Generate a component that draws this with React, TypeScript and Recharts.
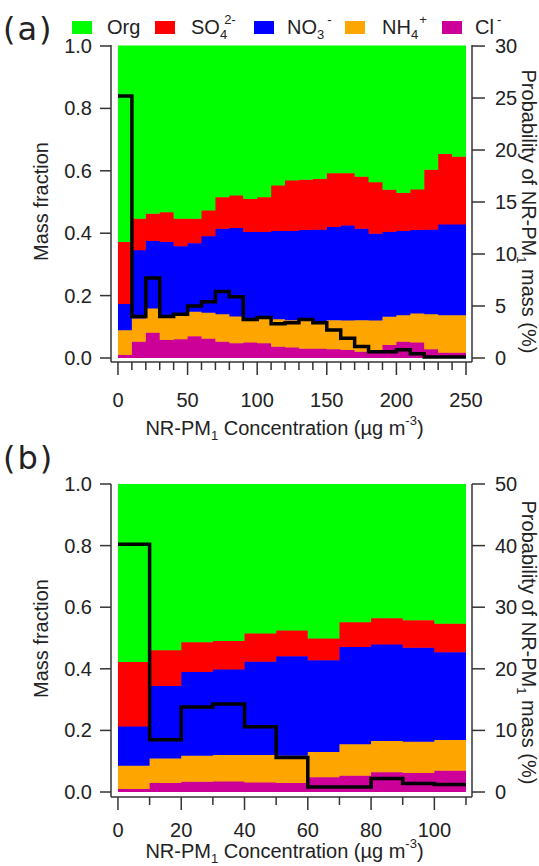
import React from 'react'
import { ComposedChart, Area, Line, XAxis, YAxis } from 'recharts'

// panel (a): 10 µg m-3 bins from 0 to 250
const binsA = [0, 10, 20, 30, 40, 50, 60, 70, 80, 90, 100, 110, 120, 130, 140, 150, 160, 170, 180, 190, 200, 210, 220, 230, 240]
const endA = 250
const orgA = [0.628, 0.554, 0.538, 0.533, 0.554, 0.554, 0.527, 0.485, 0.479, 0.490, 0.485, 0.447, 0.431, 0.429, 0.426, 0.408, 0.408, 0.419, 0.437, 0.461, 0.471, 0.460, 0.397, 0.346, 0.355]
const so4A = [0.199, 0.101, 0.087, 0.095, 0.088, 0.078, 0.083, 0.101, 0.104, 0.106, 0.111, 0.146, 0.162, 0.161, 0.163, 0.172, 0.167, 0.167, 0.165, 0.135, 0.122, 0.130, 0.192, 0.226, 0.217]
const no3A = [0.084, 0.218, 0.216, 0.240, 0.221, 0.220, 0.245, 0.274, 0.284, 0.276, 0.277, 0.283, 0.286, 0.289, 0.293, 0.299, 0.305, 0.293, 0.278, 0.272, 0.270, 0.267, 0.271, 0.291, 0.291]
const nh4A = [0.079, 0.075, 0.078, 0.074, 0.077, 0.078, 0.083, 0.088, 0.086, 0.078, 0.080, 0.088, 0.087, 0.091, 0.088, 0.093, 0.094, 0.101, 0.094, 0.090, 0.085, 0.093, 0.112, 0.120, 0.120]
const clA = [0.010, 0.052, 0.081, 0.058, 0.060, 0.070, 0.062, 0.052, 0.047, 0.050, 0.047, 0.036, 0.034, 0.030, 0.030, 0.028, 0.026, 0.020, 0.026, 0.042, 0.052, 0.050, 0.028, 0.017, 0.017]
const probA = [25.2, 4.0, 7.7, 4.0, 4.2, 5.0, 5.4, 6.4, 5.9, 3.7, 3.9, 3.3, 3.4, 3.7, 3.4, 2.7, 1.9, 1.1, 0.6, 0.6, 0.8, 0.4, 0.1, 0.1, 0.1]
const xTicksA = [0, 10, 20, 30, 40, 50, 60, 70, 80, 90, 100, 110, 120, 130, 140, 150, 160, 170, 180, 190, 200, 210, 220, 230, 240, 250]
const probTicksA = [0, 5, 10, 15, 20, 25, 30]

// panel (b): 10 µg m-3 bins from 0 to 110
const binsB = [0, 10, 20, 30, 40, 50, 60, 70, 80, 90, 100]
const endB = 110
const orgB = [0.578, 0.540, 0.514, 0.510, 0.485, 0.476, 0.502, 0.449, 0.436, 0.442, 0.454]
const so4B = [0.209, 0.116, 0.096, 0.092, 0.092, 0.083, 0.070, 0.080, 0.085, 0.090, 0.092]
const no3B = [0.128, 0.235, 0.272, 0.278, 0.303, 0.323, 0.298, 0.316, 0.313, 0.305, 0.285]
const nh4B = [0.075, 0.080, 0.085, 0.086, 0.089, 0.089, 0.082, 0.102, 0.102, 0.101, 0.100]
const clB = [0.010, 0.029, 0.033, 0.034, 0.031, 0.029, 0.048, 0.053, 0.064, 0.062, 0.069]
const probB = [40.2, 8.5, 13.8, 14.3, 10.6, 5.6, 0.8, 0.8, 2.2, 1.4, 1.2]
const xTicksB = [0, 10, 20, 30, 40, 50, 60, 70, 80, 90, 100, 110]
const probTicksB = [0, 10, 20, 30, 40, 50]

const fracTicks = [0, 0.2, 0.4, 0.6, 0.8, 1.0]

const COLORS = {
  org: '#00ff00',
  so4: '#ff0000',
  no3: '#0000ff',
  nh4: '#ffa500',
  cl: '#cc0099',
}

const FONT = "'Liberation Sans', Arial, Helvetica, sans-serif"
const INK = '#222'
const AXIS = '#333'

function buildRows(bins: number[], end: number, org: number[], so4: number[], no3: number[], nh4: number[], cl: number[], prob: number[]) {
  const rows = bins.map((x, i) => ({ x, org: org[i], so4: so4[i], no3: no3[i], nh4: nh4[i], cl: cl[i], prob: prob[i] }))
  // closing edge so the last step is drawn
  rows.push({ ...rows[rows.length - 1], x: end })
  return rows
}

const rowsA = buildRows(binsA, endA, orgA, so4A, no3A, nh4A, clA, probA)
const rowsB = buildRows(binsB, endB, orgB, so4B, no3B, nh4B, clB, probB)

function XTick(props: any) {
  const { x, y, payload, every, labelDy } = props
  const v = payload.value
  const major = Math.abs(v % every) < 1e-6
  return (
    <g>
      <line x1={x} x2={x} y1={y} y2={y + (major ? 13 : 8)} stroke={AXIS} strokeWidth={1.5} />
      {major && (
        <text x={x} y={y + labelDy} textAnchor="middle" fontFamily={FONT} fontSize={20} fill={INK}>
          {v}
        </text>
      )}
    </g>
  )
}

function LeftTick(props: any) {
  const { x, y, payload } = props
  return (
    <g>
      <line x1={x - 11} x2={x} y1={y} y2={y} stroke={AXIS} strokeWidth={1.5} />
      <text x={x - 19} y={y + 7} textAnchor="end" fontFamily={FONT} fontSize={20} fill={INK}>
        {Number(payload.value).toFixed(1)}
      </text>
    </g>
  )
}

function RightTick(props: any) {
  const { x, y, payload } = props
  return (
    <g>
      <line x1={x} x2={x + 13} y1={y} y2={y} stroke={AXIS} strokeWidth={1.5} />
      <text x={x + 23} y={y + 7} textAnchor="start" fontFamily={FONT} fontSize={20} fill={INK}>
        {payload.value}
      </text>
    </g>
  )
}

function XTitle(props: any) {
  const { viewBox, dy } = props
  const cx = viewBox.x + viewBox.width / 2 - 7
  return (
    <text x={cx} y={viewBox.y + dy} textAnchor="middle" fontFamily={FONT} fontSize={20} fill={INK}>
      NR-PM<tspan fontSize={13} dy={5}>1</tspan>
      <tspan dy={-5}> Concentration (µg m</tspan>
      <tspan fontSize={13} dy={-10}>-3</tspan>
      <tspan dy={10}>)</tspan>
    </text>
  )
}

function LeftTitle(props: any) {
  const { viewBox } = props
  const cx = viewBox.x + 48
  const cy = viewBox.y + viewBox.height / 2 - 2
  return (
    <text x={cx} y={cy} transform={`rotate(-90, ${cx}, ${cy})`} textAnchor="middle" fontFamily={FONT} fontSize={20} fill={INK}>
      Mass fraction
    </text>
  )
}

function RightTitle(props: any) {
  const { viewBox, shift } = props
  const cx = viewBox.x + 50
  const cy = viewBox.y + viewBox.height / 2 + shift
  return (
    <text x={cx} y={cy} transform={`rotate(90, ${cx}, ${cy})`} textAnchor="middle" fontFamily={FONT} fontSize={20} fill={INK}>
      Probability of NR-PM<tspan fontSize={13} dy={5}>1</tspan>
      <tspan dy={-5}> mass (%)</tspan>
    </text>
  )
}

type PanelProps = {
  rows: any[]
  height: number
  top: number
  xAxisHeight: number
  xDomain: [number, number]
  xTicks: number[]
  every: number
  fracDomain: [number, number]
  probDomain: [number, number]
  probTicks: number[]
  rightShift: number
  labelDy: number
  titleDy: number
}

function Panel(p: PanelProps) {
  return (
    <ComposedChart width={539} height={p.height} data={p.rows} margin={{ top: p.top, right: 0, bottom: 0, left: 0 }}>
      <XAxis
        dataKey="x"
        type="number"
        domain={p.xDomain}
        allowDataOverflow
        ticks={p.xTicks}
        interval={0}
        height={p.xAxisHeight}
        tickSize={0}
        tickMargin={0}
        tickLine={false}
        axisLine={{ stroke: AXIS, strokeWidth: 1.5 }}
        tick={<XTick every={p.every} labelDy={p.labelDy} />}
        label={<XTitle dy={p.titleDy} />}
      />
      <YAxis
        yAxisId="left"
        orientation="left"
        type="number"
        width={111}
        domain={p.fracDomain}
        allowDataOverflow
        ticks={fracTicks}
        interval={0}
        tickSize={0}
        tickMargin={0}
        tickLine={false}
        axisLine={{ stroke: AXIS, strokeWidth: 1.5 }}
        tick={<LeftTick />}
        label={<LeftTitle />}
      />
      <YAxis
        yAxisId="right"
        orientation="right"
        type="number"
        width={67}
        domain={p.probDomain}
        allowDataOverflow
        ticks={p.probTicks}
        interval={0}
        tickSize={0}
        tickMargin={0}
        tickLine={false}
        axisLine={{ stroke: AXIS, strokeWidth: 1.5 }}
        tick={<RightTick />}
        label={<RightTitle shift={p.rightShift} />}
      />
      {(['cl', 'nh4', 'no3', 'so4', 'org'] as const).map((k) => (
        <Area
          key={k}
          yAxisId="left"
          dataKey={k}
          stackId="frac"
          type="stepAfter"
          fill={COLORS[k]}
          fillOpacity={1}
          stroke={COLORS[k]}
          strokeWidth={1}
          dot={false}
          activeDot={false}
          isAnimationActive={false}
        />
      ))}
      <Line
        yAxisId="right"
        dataKey="prob"
        type="stepAfter"
        stroke="#000"
        strokeWidth={3.5}
        dot={false}
        activeDot={false}
        isAnimationActive={false}
      />
    </ComposedChart>
  )
}

const legendItems = [
  { key: 'org', box: 72, text: 107, base: 'Org', sub: '', sup: '', supDx: 0 },
  { key: 'so4', box: 155, text: 191, base: 'SO', sub: '4', sup: '2-', supDx: -3 },
  { key: 'no3', box: 254, text: 287, base: 'NO', sub: '3', sup: '-', supDx: 3 },
  { key: 'nh4', box: 345, text: 382, base: 'NH', sub: '4', sup: '+', supDx: 1 },
  { key: 'cl', box: 442, text: 475, base: 'Cl', sub: '', sup: '-', supDx: 3 },
] as const

function Overlay() {
  return (
    <svg width={539} height={866} style={{ position: 'absolute', left: 0, top: 0, pointerEvents: 'none' }}>
      <text x={3} y={40} fontFamily="'DejaVu Sans', sans-serif" fontSize={32} fill={INK} letterSpacing={2}>(a)</text>
      <text x={3} y={469} fontFamily="'DejaVu Sans', sans-serif" fontSize={32} fill={INK} letterSpacing={2}>(b)</text>
      {legendItems.map((it) => (
        <g key={it.key}>
          <rect x={it.box} y={21} width={20} height={13} fill={COLORS[it.key]} />
          <text x={it.text} y={34} fontFamily={FONT} fontSize={20} fill={INK}>
            {it.base}
            {it.sub && <tspan fontSize={13} dy={5}>{it.sub}</tspan>}
            {it.sup && (
              <tspan fontSize={13} dx={it.supDx} dy={it.sub ? -15 : -10}>{it.sup}</tspan>
            )}
          </text>
        </g>
      ))}
    </svg>
  )
}

export default function App() {
  return (
    <div style={{ position: 'absolute', left: 0, top: 0, width: 539, height: 866, background: '#fff', overflow: 'hidden' }}>
      <div style={{ position: 'absolute', left: 0, top: 0 }}>
        <Panel
          rows={rowsA}
          height={452}
          top={45}
          xAxisHeight={90}
          xDomain={[-5, 254.3]}
          xTicks={xTicksA}
          every={50}
          fracDomain={[-0.0128, 1.0032]}
          probDomain={[-0.385, 30.1]}
          probTicks={probTicksA}
          rightShift={8}
          labelDy={45}
          titleDy={73}
        />
      </div>
      <div style={{ position: 'absolute', left: 0, top: 440 }}>
        <Panel
          rows={rowsB}
          height={426}
          top={44}
          xAxisHeight={69}
          xDomain={[-2.2, 111.9]}
          xTicks={xTicksB}
          every={20}
          fracDomain={[-0.0162, 1.0]}
          probDomain={[-0.81, 50]}
          probTicks={probTicksB}
          rightShift={2}
          labelDy={40}
          titleDy={61}
        />
      </div>
      <Overlay />
    </div>
  )
}
